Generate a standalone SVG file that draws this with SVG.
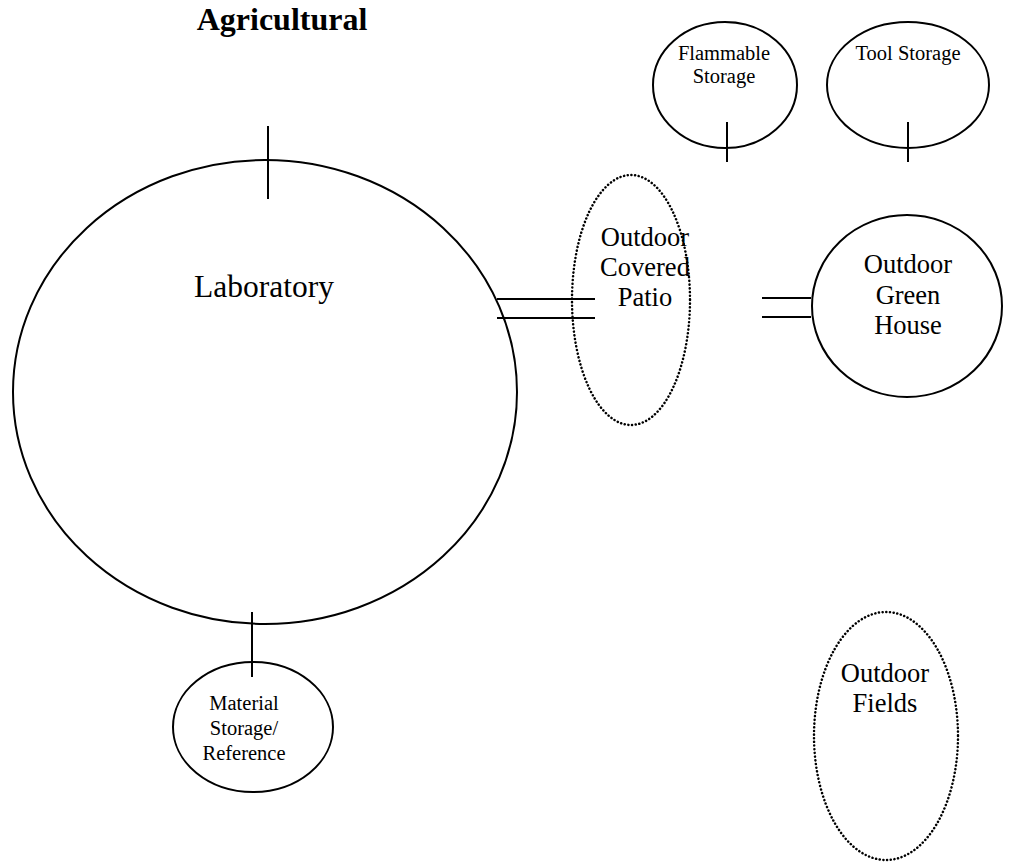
<svg xmlns="http://www.w3.org/2000/svg" width="1016" height="867" viewBox="0 0 1016 867">
  <style>
    .solid { fill: none; stroke: #000; stroke-width: 2; }
    .dotted { fill: none; stroke: #000; stroke-width: 2.5; stroke-dasharray: 0.1 3.6; stroke-linecap: round; }
    .link { stroke: #000; stroke-width: 2; fill: none; }
    text { fill: #000; text-anchor: middle; font-family: "Liberation Serif", "Times New Roman", serif; }
    .title { font-size: 32px; font-weight: bold; }
    .main { font-size: 31.5px; }
    .big { font-size: 26.5px; }
    .small { font-size: 20.5px; }
  </style>
  <rect width="1016" height="867" fill="#fff"/>

  <text class="title" x="282" y="30">Agricultural</text>

  <g id="laboratory">
    <ellipse class="solid" cx="265" cy="392" rx="252" ry="232"/>
    <text class="main" x="264" y="297">Laboratory</text>
  </g>

  <g id="flammable-storage">
    <ellipse class="solid" cx="725" cy="85" rx="72" ry="63"/>
    <text class="small" x="724" y="60">Flammable</text>
    <text class="small" x="724" y="83">Storage</text>
  </g>

  <g id="tool-storage">
    <ellipse class="solid" cx="908" cy="85" rx="81" ry="63"/>
    <text class="small" x="908" y="60">Tool Storage</text>
  </g>

  <g id="covered-patio">
    <ellipse class="dotted" cx="631" cy="300" rx="59" ry="125"/>
    <text class="big" x="645" y="246">Outdoor</text>
    <text class="big" x="645" y="276">Covered</text>
    <text class="big" x="645" y="306">Patio</text>
  </g>

  <g id="green-house">
    <ellipse class="solid" cx="907" cy="306" rx="95" ry="91"/>
    <text class="big" x="908" y="273">Outdoor</text>
    <text class="big" x="908" y="304">Green</text>
    <text class="big" x="908" y="334">House</text>
  </g>

  <g id="material-storage">
    <ellipse class="solid" cx="253" cy="727" rx="80" ry="65"/>
    <text class="small" x="244" y="710">Material</text>
    <text class="small" x="244" y="735">Storage/</text>
    <text class="small" x="244" y="760">Reference</text>
  </g>

  <g id="outdoor-fields">
    <ellipse class="dotted" cx="886" cy="736" rx="72" ry="124"/>
    <text class="big" x="885" y="682">Outdoor</text>
    <text class="big" x="885" y="712">Fields</text>
  </g>

  <g id="connectors">
    <line class="link" x1="268" y1="126" x2="268" y2="199"/>
    <line class="link" x1="727" y1="122" x2="727" y2="162"/>
    <line class="link" x1="908" y1="122" x2="908" y2="162"/>
    <line class="link" x1="252" y1="612" x2="252" y2="677"/>
    <line class="link" x1="497" y1="299" x2="595" y2="299"/>
    <line class="link" x1="497" y1="318" x2="595" y2="318"/>
    <line class="link" x1="762" y1="298" x2="811" y2="298"/>
    <line class="link" x1="762" y1="317" x2="811" y2="317"/>
  </g>
</svg>
